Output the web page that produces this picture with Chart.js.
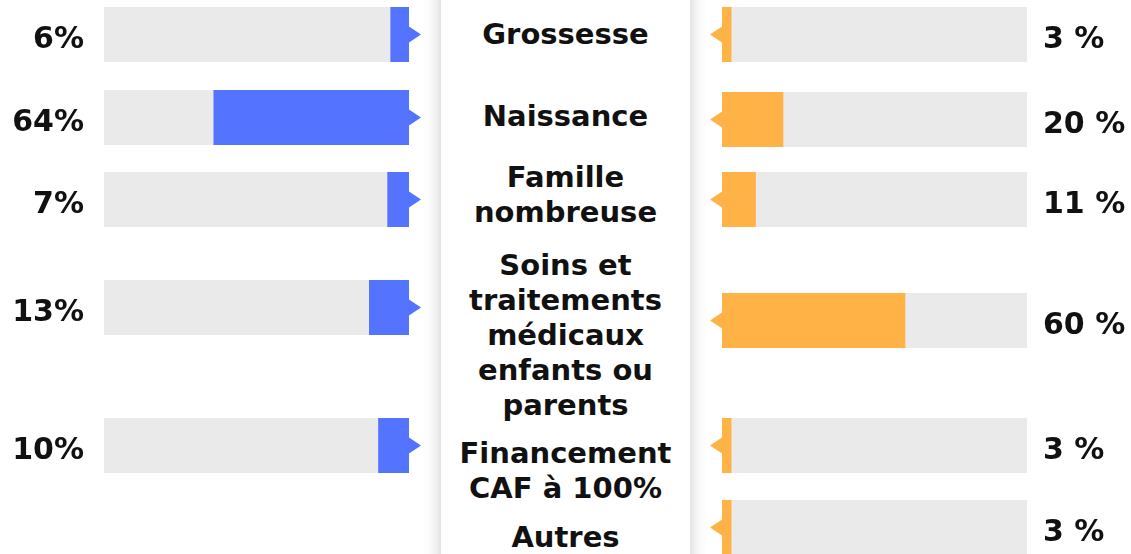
<!DOCTYPE html>
<html lang="fr">
<head>
<meta charset="utf-8">
<script src="https://cdn.jsdelivr.net/npm/chart.js@4/dist/chart.umd.min.js"></script>
<style>
  html, body { margin: 0; padding: 0; background: #fff; overflow: hidden; }
  #board { position: relative; width: 1131px; height: 554px; overflow: hidden; }
  #board canvas { position: absolute; }
  .panel {
    position: absolute; left: 441px; top: -40px; width: 249px; height: 640px;
    background: #fff; box-shadow: 0 0 16px rgba(0, 0, 0, 0.22);
  }
  .cat {
    position: absolute; left: 441px; width: 249px; text-align: center;
    font: bold 29px "DejaVu Sans", sans-serif; line-height: 35px; color: #111;
  }
</style>
</head>
<body>
<div id="board">
  <div class="panel"></div>
</div>
<script>
var categories = [
    ["Grossesse"],
    ["Naissance"],
    ["Famille", "nombreuse"],
    ["Soins et", "traitements", "médicaux", "enfants ou", "parents"],
    ["Financement", "CAF à 100%"],
    ["Autres"]
];
var leftValues = [6, 64, 7, 13, 10, null];
var rightValues = [3, 20, 11, 60, 3, 3];

// row placement (px from top of the board)
var leftRowTops = [7, 90, 172, 280, 418, null];
var rightRowTops = [7, 92, 172, 293, 418, 500];
var labelTops = [17, 99, 160, 248, 436, 520];

var BLUE = "#5473ff";
var ORANGE = "#ffb347";
var TRACK = "#eaeaea";
var ROW_H = 55;

var board = document.getElementById("board");

// arrow at the zero end of the bar + value text outside the track
var rowDecor = {
    id: "rowDecor",
    afterDatasetsDraw: function (chart, args, opts) {
        var ctx = chart.ctx;
        var area = chart.chartArea;
        var bar = chart.getDatasetMeta(0).data[0];
        var base = chart.scales.x.getPixelForValue(0);
        var cy = bar.y;
        ctx.save();
        ctx.fillStyle = opts.color;
        ctx.beginPath();
        ctx.moveTo(base, cy - 8);
        ctx.lineTo(base + opts.dir * 12, cy);
        ctx.lineTo(base, cy + 8);
        ctx.closePath();
        ctx.fill();

        ctx.font = 'bold 30px "DejaVu Sans", sans-serif';
        ctx.fillStyle = "#111";
        ctx.textBaseline = "alphabetic";
        if (opts.dir > 0) {
            ctx.textAlign = "right";
            ctx.fillText(opts.text, area.left - 20, cy + 13);
        } else {
            ctx.textAlign = "left";
            ctx.fillText(opts.text, area.right + 16, cy + 13);
        }
        ctx.restore();
    }
};

function makeRow(side, i) {
    var isLeft = side === "left";
    var value = isLeft ? leftValues[i] : rightValues[i];
    if (value === null) return;
    var canvas = document.createElement("canvas");
    canvas.width = isLeft ? 430 : 431;
    canvas.height = ROW_H;
    canvas.style.left = (isLeft ? 0 : 700) + "px";
    canvas.style.top = (isLeft ? leftRowTops[i] : rightRowTops[i]) + "px";
    board.appendChild(canvas);

    var color = isLeft ? BLUE : ORANGE;
    new Chart(canvas.getContext("2d"), {
        type: "bar",
        data: {
            labels: [categories[i].join(" ")],
            datasets: [
                { data: [value], backgroundColor: color, order: 0 },
                { data: [100], backgroundColor: TRACK, order: 1 }
            ]
        },
        plugins: [rowDecor],
        options: {
            indexAxis: "y",
            responsive: false,
            animation: false,
            events: [],
            grouped: false,
            barPercentage: 1,
            categoryPercentage: 1,
            layout: {
                padding: isLeft
                    ? { left: 104, right: 21, top: 0, bottom: 0 }
                    : { left: 22, right: 104, top: 0, bottom: 0 }
            },
            scales: {
                x: { min: 0, max: 100, reverse: isLeft, display: false },
                y: { display: false }
            },
            plugins: {
                legend: { display: false },
                tooltip: { enabled: false },
                rowDecor: {
                    color: color,
                    dir: isLeft ? 1 : -1,
                    text: isLeft ? value + "%" : value + " %"
                }
            }
        }
    });
}

categories.forEach(function (lines, i) {
    var div = document.createElement("div");
    div.className = "cat";
    div.style.top = labelTops[i] + "px";
    div.innerHTML = lines.join("<br>");
    board.appendChild(div);
    makeRow("left", i);
    makeRow("right", i);
});
</script>
</body>
</html>
